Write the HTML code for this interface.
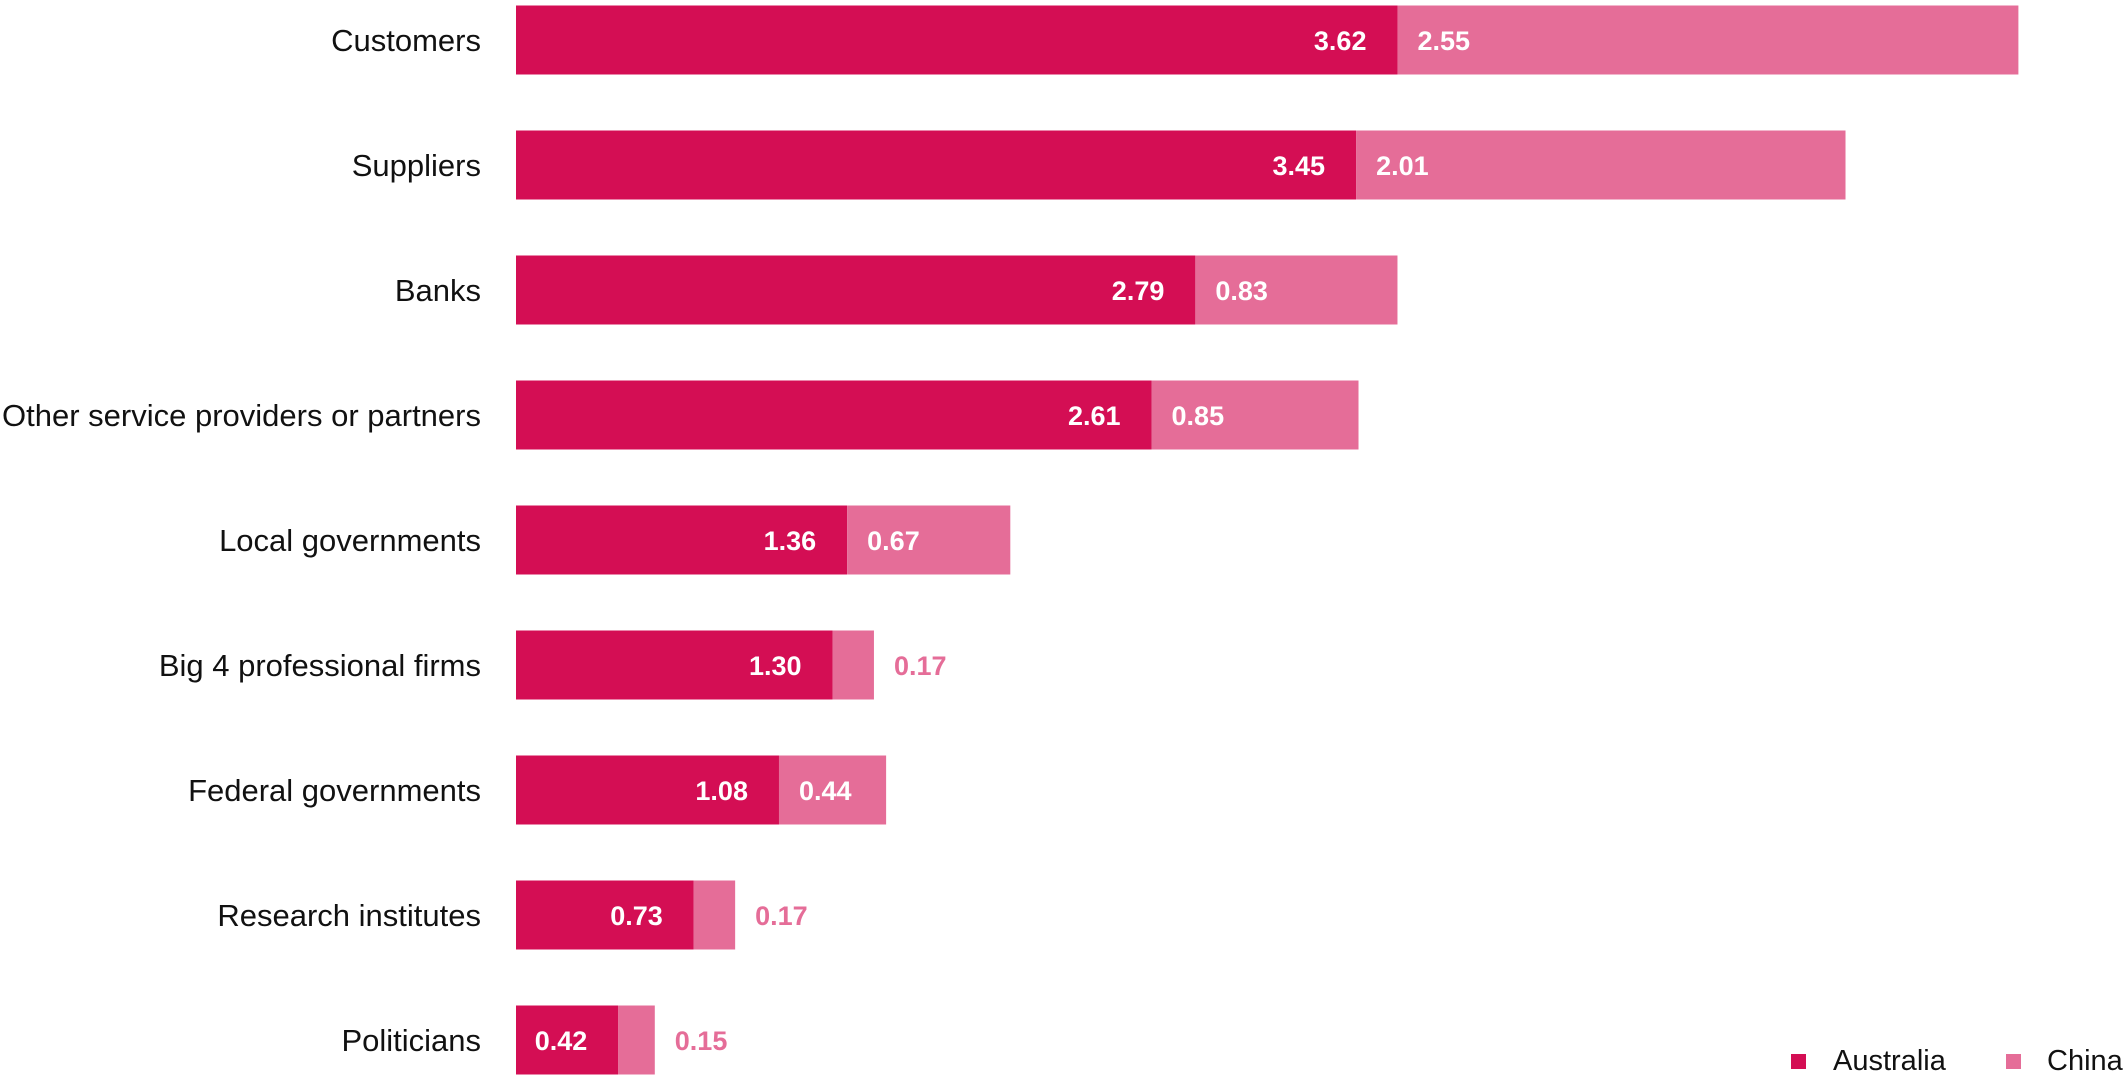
<!DOCTYPE html>
<html><head><meta charset="utf-8"><style>
body{margin:0;background:#fff;width:2125px;height:1087px;overflow:hidden;font-family:"Liberation Sans",sans-serif}
</style></head><body>
<svg width="2125" height="1087" xmlns="http://www.w3.org/2000/svg" font-family="Liberation Sans, sans-serif">
<g id="c"></g>
</svg>
<script>
const d=[["Customers",3.62,2.55],["Suppliers",3.45,2.01],["Banks",2.79,0.83],["Other service providers or partners",2.61,0.85],["Local governments",1.36,0.67],["Big 4 professional firms",1.30,0.17],["Federal governments",1.08,0.44],["Research institutes",0.73,0.17],["Politicians",0.42,0.15]];
const k=243.5,x0=516;let s="";
d.forEach((r,i)=>{const cy=40+125*i,top=cy-34.5;const a=x0+r[1]*k,b=a+r[2]*k;
s+=`<text x="481" y="${cy+11}" font-size="31" text-anchor="end" fill="#111">${r[0]}</text>`;
s+=`<rect x="${x0}" y="${top}" width="${a-x0}" height="69" fill="#d40e54"/>`;
s+=`<rect x="${a}" y="${top}" width="${b-a}" height="69" fill="#e56d98"/>`;
s+=`<text x="${a-31}" y="${cy+10}" font-size="27" font-weight="bold" text-anchor="end" fill="#fff">${r[1].toFixed(2)}</text>`;
if(r[2]>=0.4)s+=`<text x="${a+20}" y="${cy+10}" font-size="27" font-weight="bold" fill="#fff">${r[2].toFixed(2)}</text>`;
else s+=`<text x="${b+20}" y="${cy+10}" font-size="27" font-weight="bold" fill="#e56d98">${r[2].toFixed(2)}</text>`;
});
s+=`<rect x="1791" y="1054" width="15" height="15" fill="#d40e54"/><text x="1833" y="1070" font-size="29" fill="#111">Australia</text>`;
s+=`<rect x="2006" y="1054" width="15" height="15" fill="#e56d98"/><text x="2047" y="1070" font-size="29" fill="#111">China</text>`;
document.getElementById("c").innerHTML=s;
</script>
</body></html>
